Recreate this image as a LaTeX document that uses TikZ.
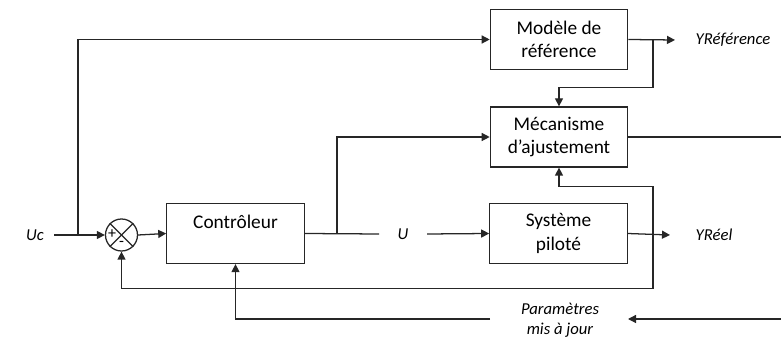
\documentclass[tikz,border=0pt]{standalone}
\usepackage{fontspec}
\setmainfont{Carlito}
\usepackage{tikz}
\usetikzlibrary{arrows.meta, positioning, calc}
\tikzset{
    block/.style={draw=black!85, rectangle, line width=0.95pt, minimum width=103pt, minimum height=45pt, text centered, align=center, font=\fontsize{14.5}{17.5}\selectfont},
    sumnode/.style={draw=black!85, circle, line width=0.95pt, minimum size=24pt, inner sep=0pt},
    sig/.style={font=\itshape\fontsize{12.5}{15}\selectfont, align=center, inner sep=1pt},
    wire/.style={line width=0.95pt, draw=black!85},
    arrow/.style={wire, -{Triangle[length=6pt, width=6pt]}}
}

\begin{document}
\begin{tikzpicture}[x=0.75pt, y=-0.75pt]
        \useasboundingbox (0,0) rectangle (781,341);

        % Blocks
        \node[block] (model) at (559,39.5) {Modèle de\\référence};
        \node[block] (mech) at (559,137) {Mécanisme\\d’ajustement};
        \node[block] (ctrl) at (235.5,233.5) {Contrôleur\\~};
        \node[block] (plant) at (558.5,233.5) {Système\\piloté};

        % Summing junction
        \node[sumnode] (sum) at (121.5,235) {};
        \draw[wire] (sum.north west) -- (sum.south east);
        \draw[wire] (sum.north east) -- (sum.south west);
        \node[font=\fontsize{12}{12}\selectfont, inner sep=0pt] (plus) at ($(sum.center)+(-9.5,-1)$) {+};
        \node[font=\fontsize{12}{12}\selectfont, inner sep=0pt] (minus) at ($(sum.center)+(0,9)$) {-};

        % Signal labels
        \node[sig] (uc) at (35,235) {Uc};
        \node[sig] (u) at (403,234) {U};
        \node[sig] (yref) at (733,40) {YRéférence};
        \node[sig] (yreel) at (714,235) {YRéel};
        \node[sig] (params) at (560,320) {Paramètres\\mis à jour};

        % Junction points
        \coordinate (ucin) at (54,235);
        \coordinate (ucsplit) at (78,235);
        \coordinate (refsplit) at (653,40);
        \coordinate (refend) at (675,40);
        \coordinate (mechout) at (781,137);
        \coordinate (uleft) at (379,234);
        \coordinate (uright) at (427,234);
        \coordinate (usplit) at (337,234);
        \coordinate (yend) at (670,235);
        \coordinate (ysplit) at (653,235);
        \coordinate (parin) at (781,319);
        \coordinate (parend) at (628,319);
        \coordinate (parout) at (490,319);

        % Reference path
        \draw[arrow] (ucin) -- (sum.west);
        \draw[arrow] (ucsplit) |- (model.west);
        \draw[arrow] (model.east) -- (refend);
        \draw[arrow] (refsplit) |- ($(mech.north)+(0,-19)$) -- (mech.north);
        \draw[wire] (mech.east) -- (mechout);

        % Main loop
        \draw[arrow] (sum.east) -- (ctrl.west);
        \draw[wire] (ctrl.east) -- (uleft);
        \draw[arrow] (uright) -- (plant.west);
        \draw[arrow] (usplit) |- (mech.west);
        \draw[arrow] (plant.east) -- (yend);

        % Feedback
        \draw[arrow] (ysplit) |- ($(mech.south)+(0,19)$) -- (mech.south);
        \draw[arrow] (ysplit) |- ($(sum.south)+(0,37)$) -- (sum.south);

        % Adapted parameters
        \draw[arrow] (parin) -- (parend);
        \draw[arrow] (parout) -| (ctrl.south);
    \end{tikzpicture}
\end{document}
